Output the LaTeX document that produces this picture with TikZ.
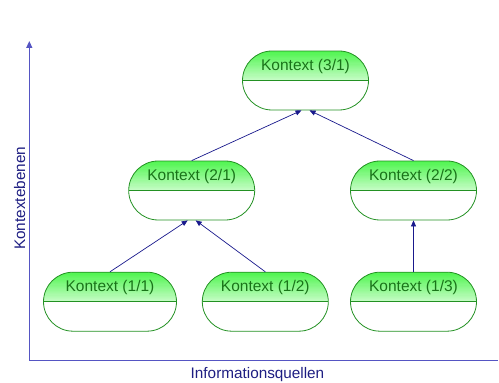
\documentclass[tikz,border=0pt]{standalone}
\usepackage{fontspec}
\setmainfont{Liberation Sans}
\usetikzlibrary{shapes.misc,arrows.meta,calc}
\definecolor{ctxborder}{RGB}{35,145,35}
\definecolor{ctxtop}{RGB}{80,245,80}
\definecolor{ctxmid}{RGB}{195,252,195}
\definecolor{ctxtext}{RGB}{25,115,25}
\definecolor{axiscol}{RGB}{85,85,195}
\definecolor{linkcol}{RGB}{25,25,140}
\definecolor{labelcol}{RGB}{30,30,130}
\tikzset{
  ctx/.style={rounded rectangle, draw=ctxborder, line width=0.8pt, fill=white,
    minimum width=126pt, minimum height=59pt, inner sep=0pt,
    path picture={
      % upper half: vertical gradient built from thin bands
      \foreach \i in {0,...,23} {
        \pgfmathsetmacro\mixp{\i*100/23}
        \fill[ctxmid!\mixp!ctxtop]
          ($(path picture bounding box.north west)!\i/24!(path picture bounding box.west)$)
          rectangle
          ($(path picture bounding box.north east)!{(\i+1.4)/24}!(path picture bounding box.east)$);
      }
      \draw[ctxborder, line width=1.2pt]
        (path picture bounding box.west) -- (path picture bounding box.east);
    }},
  ctxlabel/.style={text=ctxtext, font=\fontsize{15.5}{17}\selectfont, inner sep=0pt, anchor=base},
  link/.style={draw=linkcol, line width=0.7pt, -{Triangle[length=6pt,width=5pt]}},
  axis/.style={draw=axiscol, line width=1.3pt},
  axislabel/.style={text=labelcol, font=\fontsize{15.3}{17}\selectfont, inner sep=0pt, anchor=base}
}
\begin{document}
\begin{tikzpicture}[x=1pt,y=1pt]
\useasboundingbox (0,0) rectangle (499,383);

% axes
\coordinate (origin) at (29.3,22.3);
\coordinate (ytop) at (29.3,342);
\coordinate (xend) at (498,22.3);
\draw[axis, -{Triangle[length=7pt,width=6pt]}] (origin) -- (ytop);
\draw[axis] (origin) -- (xend);
\node[axislabel, rotate=90] (ylab) at (25,184.7) {Kontextebenen};
\node[axislabel] (xlab) at (257.5,4.5) {Informationsquellen};

% context boxes
\node[ctx] (n31) at (305.5,302.5) {};
\node[ctx] (n21) at (191.7,192.5) {};
\node[ctx] (n22) at (413.5,192.5) {};
\node[ctx, minimum width=133pt] (n11) at (110,81.3) {};
\node[ctx] (n12) at (265.3,81.3) {};
\node[ctx] (n13) at (413.5,81.3) {};

\node[ctxlabel] (t31) at ($(n31.north)+(0,-19.7)$) {Kontext (3/1)};
\node[ctxlabel] (t21) at ($(n21.north)+(0,-19.7)$) {Kontext (2/1)};
\node[ctxlabel] (t22) at ($(n22.north)+(0,-19.7)$) {Kontext (2/2)};
\node[ctxlabel] (t11) at ($(n11.north)+(0,-19.7)$) {Kontext (1/1)};
\node[ctxlabel] (t12) at ($(n12.north)+(0,-19.7)$) {Kontext (1/2)};
\node[ctxlabel] (t13) at ($(n13.north)+(0,-19.7)$) {Kontext (1/3)};

% links between levels
\draw[link] (n11.north) -- ($(n21.south)+(-4,0)$);
\draw[link] (n12.north) -- ($(n21.south)+(4,0)$);
\draw[link] (n21.north) -- ($(n31.south)+(-4,0)$);
\draw[link] (n22.north) -- ($(n31.south)+(4,0)$);
\draw[link] (n13.north) -- (n22.south);
\end{tikzpicture}
\end{document}
